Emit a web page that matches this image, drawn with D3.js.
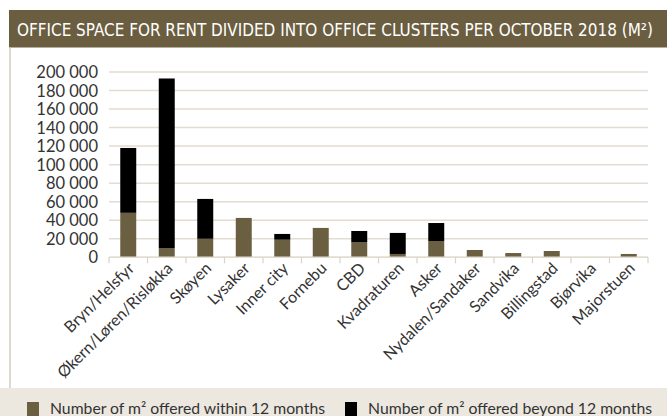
<!DOCTYPE html>
<html>
<head>
<meta charset="utf-8">
<script src="https://cdn.jsdelivr.net/npm/d3@7"></script>
<style>
  body { margin: 0; background: #fff; }
  svg { display: block; }
</style>
</head>
<body>
<div id="chart"></div>
<script>
// office clusters, values in m2
let categories = ['Bryn/Helsfyr', 'Økern/Løren/Risløkka', 'Skøyen', 'Lysaker', 'Inner city',
    'Fornebu', 'CBD', 'Kvadraturen', 'Asker', 'Nydalen/Sandaker', 'Sandvika',
    'Billingstad', 'Bjørvika', 'Majorstuen']
let within12 = [48000, 10000, 20000, 42500, 19000, 31700, 16500, 3600, 17600, 7900, 4600, 6800, 0, 3600]
let beyond12 = [70000, 183000, 43000, 0, 6200, 0, 11900, 22700, 19400, 0, 0, 0, 0, 0]
let yTicks = [0, 20000, 40000, 60000, 80000, 100000, 120000, 140000, 160000, 180000, 200000]
let seriesNames = ['Number of m² offered within 12 months', 'Number of m² offered beyond 12 months']

let W = 667, H = 416
let margin = {top: 72, right: 19, bottom: 159, left: 109}
let olive = '#6b5f41'
let font = 'Lato, "Open Sans", sans-serif'

let svg = d3.select('#chart').append('svg')
    .attr('width', W)
    .attr('height', H)

// legend band
svg.append('rect')
    .attr('x', 0).attr('y', 388)
    .attr('width', W).attr('height', H - 388)
    .attr('fill', '#ece8e0')

// title band
svg.append('rect')
    .attr('x', 9).attr('y', 10)
    .attr('width', W - 9).attr('height', 37.5)
    .attr('fill', '#6b5e40')
let title = svg.append('text')
    .attr('x', 17).attr('y', 36)
    .attr('fill', '#fff')
    .attr('font-family', '"Liberation Sans Narrow", "DejaVu Sans Condensed", sans-serif')
    .attr('font-size', 18)
    .text('OFFICE SPACE FOR RENT DIVIDED INTO OFFICE CLUSTERS PER OCTOBER 2018 (M²)')
// shrink the title font until it fits inside the band
let tw = title.node().getComputedTextLength()
if (tw > 636) title.attr('font-size', 18 * 636 / tw)

// left border line
svg.append('line')
    .attr('x1', 10).attr('x2', 10)
    .attr('y1', 47.5).attr('y2', 388)
    .attr('stroke', '#d3cdbf').attr('stroke-width', 1.5)

let innerW = W - margin.left - margin.right
let innerH = H - margin.top - margin.bottom

let x = d3.scaleBand()
    .domain(categories)
    .range([0, innerW])
    .paddingInner(0.585)
    .paddingOuter(0.2925)

let y = d3.scaleLinear()
    .domain([0, 200000])
    .range([innerH + 0.3, 0])

let g = svg.append('g')
    .attr('transform', 'translate(' + margin.left + ',' + margin.top + ')')

// gridlines
g.selectAll('.grid')
    .data(yTicks)
    .enter().append('line')
    .attr('class', 'grid')
    .attr('x1', 0).attr('x2', innerW)
    .attr('y1', d => y(d)).attr('y2', d => y(d))
    .attr('stroke', '#e2ddd0')
    .attr('stroke-width', 1.5)

// y tick labels
g.selectAll('.ylab')
    .data(yTicks)
    .enter().append('text')
    .attr('class', 'ylab')
    .attr('x', -11)
    .attr('y', d => y(d) + 6)
    .attr('text-anchor', 'end')
    .attr('font-family', font)
    .attr('font-size', 16.5)
    .attr('fill', '#333')
    .text(d => d3.format(',')(d).replace(/,/g, ' '))

// stacked bars
let rows = categories.map((c, i) => ({cat: c, within: within12[i], beyond: beyond12[i]}))
let stacked = d3.stack().keys(['within', 'beyond'])(rows)
let colors = [olive, '#000']

g.selectAll('.layer')
    .data(stacked)
    .enter().append('g')
    .attr('fill', (d, i) => colors[i])
    .selectAll('rect')
    .data(d => d)
    .enter().append('rect')
    .attr('x', d => x(d.data.cat))
    .attr('width', x.bandwidth())
    .attr('y', d => y(d[1]))
    .attr('height', d => y(d[0]) - y(d[1]))

// x axis line + ticks at band boundaries
g.append('line')
    .attr('x1', 0).attr('x2', innerW)
    .attr('y1', y(0)).attr('y2', y(0))
    .attr('stroke', '#e2ddd0').attr('stroke-width', 1.5)

let step = x.step()
g.selectAll('.tick')
    .data(d3.range(categories.length + 1))
    .enter().append('line')
    .attr('x1', d => d * step).attr('x2', d => d * step)
    .attr('y1', y(0)).attr('y2', y(0) + 6)
    .attr('stroke', '#d8d3c6').attr('stroke-width', 1.2)

// rotated category labels
g.selectAll('.xlab')
    .data(categories)
    .enter().append('text')
    .attr('class', 'xlab')
    .attr('transform', d => 'translate(' + (x(d) + x.bandwidth() / 2 + 7) + ',' + (y(0) + 12) + ') rotate(-45)')
    .attr('text-anchor', 'end')
    .attr('font-family', font)
    .attr('font-size', 16)
    .attr('fill', '#333')
    .text(d => d)

// legend
let legendX = [27, 345]
let legendW = [275, 284]
let leg = svg.selectAll('.leg')
    .data(seriesNames)
    .enter().append('g')
    .attr('transform', (d, i) => 'translate(' + legendX[i] + ',402)')
leg.append('rect')
    .attr('width', 12).attr('height', 14)
    .attr('fill', (d, i) => colors[i])
leg.append('text')
    .attr('x', 23).attr('y', 12)
    .attr('font-family', font)
    .attr('font-size', 15.5)
    .attr('fill', '#333')
    .attr('textLength', (d, i) => legendW[i])
    .attr('lengthAdjust', 'spacingAndGlyphs')
    .text(d => d)
</script>
</body>
</html>
